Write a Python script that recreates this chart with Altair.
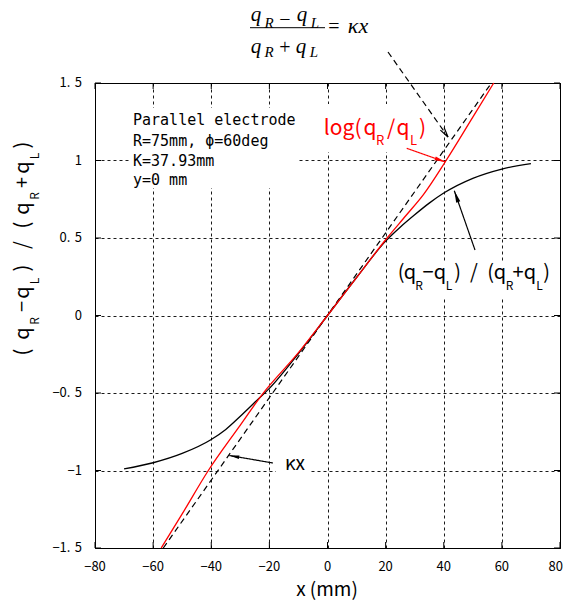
import math
import altair as alt
import pandas as pd

# ---------------- data ----------------
black_x = [-70, -60, -50, -40, -35, -30, -25, -20, -10, 0, 10, 20, 25, 30, 35, 40, 50, 60, 70]
black_y = [-0.99, -0.95, -0.89, -0.80, -0.735, -0.65, -0.56, -0.47, -0.245, 0.0, 0.245, 0.48, 0.57, 0.65, 0.725, 0.79, 0.885, 0.945, 0.98]

red_x = [-57.2, -50, -41, -30.5, -22.5, -10, 0, 10, 20.5, 27, 33, 40.8, 50, 57.2]
red_y = [-1.5, -1.28, -1.0, -0.72, -0.51, -0.24, 0.0, 0.245, 0.50, 0.645, 0.78, 1.0, 1.28, 1.5]

kx_x = [-56.5, 56.4]
kx_y = [-1.5, 1.5]

x_ticks = [-80, -60, -40, -20, 0, 20, 40, 60, 80]
y_ticks = [-1.5, -1, -0.5, 0, 0.5, 1, 1.5]

box_lines = ["Parallel electrode", "R=75mm, \u03d5=60deg", "K=37.93mm", "y=0 mm"]

# ---------------- layout helpers ----------------
W = H = 465
LEFT, TOP = 95, 83          # page position of the plot area
X0, X1, Y0, Y1 = -80, 80, -1.5, 1.5


def dx(px):
    return X0 + (px - LEFT) * (X1 - X0) / W


def dy(py):
    return Y1 - (py - TOP) * (Y1 - Y0) / H


def tick_text(v):
    s = f"{v:g}".replace("-", "\u2212")
    return s.replace(".", ".\u2004")


xscale = alt.Scale(domain=[X0, X1], nice=False, zero=False)
yscale = alt.Scale(domain=[Y0, Y1], nice=False, zero=False)
LABEL_FONT = "Noto Sans CJK JP"
xaxis = alt.Axis(values=x_ticks, grid=True, ticks=False, domain=False, labels=False, title=None)
yaxis = alt.Axis(values=y_ticks, grid=True, ticks=False, domain=False, labels=False, title=None)


def X(f):
    return alt.X(f, type="quantitative", scale=xscale, axis=xaxis, title=None)


def Y(f):
    return alt.Y(f, type="quantitative", scale=yscale, axis=yaxis, title=None)


def X2(f):
    return alt.X2(f)


def Y2(f):
    return alt.Y2(f)


# ---------------- curves ----------------
black_df = pd.DataFrame({"x": black_x, "y": black_y})
red_df = pd.DataFrame({"x": red_x, "y": red_y})
kx_df = pd.DataFrame({"x": kx_x, "y": kx_y})

black_line = alt.Chart(black_df).mark_line(color="black", strokeWidth=1.3, interpolate="monotone").encode(
    x=X("x"), y=Y("y"), order="x:Q")
red_line = alt.Chart(red_df).mark_line(color="#ff0000", strokeWidth=1.3, interpolate="monotone").encode(
    x=X("x"), y=Y("y"), order="x:Q")
kx_line = alt.Chart(kx_df).mark_line(color="black", strokeWidth=1.2, strokeDash=[6, 4]).encode(x=X("x"), y=Y("y"))

# ---------------- white boxes behind labels (page px) ----------------
boxes = [(131, 108, 299, 188), (320, 104, 432, 152), (395, 262, 555, 298), (276, 452, 311, 476)]
box_df = pd.DataFrame({"x": [dx(b[0]) for b in boxes], "x2": [dx(b[2]) for b in boxes],
                       "y": [dy(b[1]) for b in boxes], "y2": [dy(b[3]) for b in boxes]})
white = alt.Chart(box_df).mark_rect(color="white").encode(x=X("x"), x2=X2("x2"), y=Y("y"), y2=Y2("y2"))

# ---------------- inward ticks and tick labels ----------------
xt_df = pd.DataFrame({"v": x_ticks, "t": [tick_text(v) for v in x_ticks]})
yt_df = pd.DataFrame({"v": y_ticks, "t": [tick_text(v) for v in y_ticks]})
tick_b = alt.Chart(xt_df).mark_rule(color="black").encode(x=X("v"), y=alt.value(H), y2=alt.value(H - 6))
tick_t = alt.Chart(xt_df).mark_rule(color="black").encode(x=X("v"), y=alt.value(0), y2=alt.value(6))
tick_l = alt.Chart(yt_df).mark_rule(color="black").encode(y=Y("v"), x=alt.value(0), x2=alt.value(6))
tick_r = alt.Chart(yt_df).mark_rule(color="black").encode(y=Y("v"), x=alt.value(W), x2=alt.value(W - 6))
xlab = alt.Chart(xt_df.iloc[:-1]).mark_text(font=LABEL_FONT, fontSize=13, baseline="top", align="center",
                                            color="black").encode(x=X("v"), y=alt.value(H + 13), text="t:N")
xlab_last = alt.Chart(xt_df.iloc[-1:]).mark_text(font=LABEL_FONT, fontSize=13, baseline="top", align="right",
                                                 dx=3, color="black").encode(x=X("v"), y=alt.value(H + 13), text="t:N")
ylab = alt.Chart(yt_df).mark_text(font=LABEL_FONT, fontSize=13, baseline="middle", align="right", color="black").encode(
    y=Y("v"), x=alt.value(-13), text="t:N")

# ---------------- arrows (page px: start, tip) ----------------
arrows = [
    ((388, 52), (448, 137), "black", True, "open", 10),
    ((406.7, 148.3), (445.5, 162), "#ff0000", False, "filled", 11),
    ((475, 250), (454.3, 190.7), "black", False, "filled", 12),
    ((273, 463), (229.3, 455.5), "black", False, "filled", 10),
]

shaft_layers = []
head_rows = {"open": [], "filled": []}
for (fx, fy), (tx, ty), col, dashed, kind, L in arrows:
    sdf = pd.DataFrame({"x": [dx(fx)], "y": [dy(fy)], "x2": [dx(tx)], "y2": [dy(ty)]})
    m = alt.Chart(sdf).mark_rule(color=col, strokeWidth=1.2, strokeDash=[6, 4] if dashed else [1, 0])
    shaft_layers.append(m.encode(x=X("x"), y=Y("y"), x2=X2("x2"), y2=Y2("y2")))
    vx, vy = tx - fx, ty - fy
    n = math.hypot(vx, vy)
    ux, uy = vx / n, vy / n
    cx, cy = tx - ux * L / 2, ty - uy * L / 2
    ang = math.degrees(math.atan2(vx, -vy)) % 360
    head_rows[kind].append({"x": dx(cx), "y": dy(cy), "a": ang, "s": L * L, "c": col})

filled_head = alt.Chart(pd.DataFrame(head_rows["filled"])).mark_point(
    shape="M0,-1L0.36,1L-0.36,1Z", filled=True, opacity=1, strokeWidth=0
).encode(x=X("x"), y=Y("y"), angle=alt.Angle("a:Q", scale=None), size=alt.Size("s:Q", scale=None),
         color=alt.Color("c:N", scale=None))
open_head = alt.Chart(pd.DataFrame(head_rows["open"])).mark_point(
    shape="M-0.45,1L0,-1L0.45,1", filled=False, opacity=1, strokeWidth=1.2
).encode(x=X("x"), y=Y("y"), angle=alt.Angle("a:Q", scale=None), size=alt.Size("s:Q", scale=None),
         color=alt.Color("c:N", scale=None))

# fraction bar of the formula
bar_df = pd.DataFrame({"x": [dx(250)], "x2": [dx(325)], "y": [dy(27.7)], "y2": [dy(27.7)]})
frac_bar = alt.Chart(bar_df).mark_rule(color="black", strokeWidth=1).encode(x=X("x"), x2=X2("x2"), y=Y("y"), y2=Y2("y2"))

# ---------------- text segments (page px) ----------------
RED = "#ff0000"


def seg_df(rows):
    return pd.DataFrame({"t": [r[0] for r in rows], "x": [dx(r[1]) for r in rows],
                         "y": [dy(r[2]) for r in rows], "s": [r[3] for r in rows],
                         "c": [r[4] if len(r) > 4 else "black" for r in rows]})


def text_layer(rows, font, style="normal", align="center", angle=0):
    return alt.Chart(seg_df(rows)).mark_text(font=font, fontStyle=style, align=align,
                                             baseline="alphabetic", angle=angle).encode(
        x=X("x"), y=Y("y"), text="t:N", size=alt.Size("s:Q", scale=None), color=alt.Color("c:N", scale=None))


formula_it = [("q", 256, 21.2, 21), ("R", 269, 28, 15), ("q", 302, 21.2, 21), ("L", 315, 28, 15),
              ("q", 256, 52.8, 21), ("R", 269, 57.3, 15), ("q", 301, 52.8, 21), ("L", 314, 57.3, 15),
              ("\u03bax", 358, 33.3, 22)]
formula_up = [("\u2212", 285, 25.7, 20), ("+", 285, 54.3, 20), ("=", 334, 33.3, 20)]

MB, SB = 279, 290
sans_rows = [
    ("log", 339, 135, 21, RED), ("(", 358, 135, 21, RED), ("q", 370, 135, 21, RED), ("R", 380, 145, 13, RED),
    ("/", 391, 135, 21, RED), ("q", 403, 135, 21, RED), ("L", 413.5, 145, 13, RED), (")", 422.5, 135, 21, RED),
    ("(", 401, MB, 20), ("q", 410, MB, 20), ("R", 419, SB, 12), ("\u2212", 428, MB, 20), ("q", 440, MB, 20),
    ("L", 449, SB, 12), (")", 457.5, MB, 20), ("/", 474, MB, 20), ("(", 490.5, MB, 20), ("q", 500, MB, 20),
    ("R", 509.5, SB, 12), ("+", 518, MB, 20), ("q", 530, MB, 20), ("L", 539.5, SB, 12), (")", 546.5, MB, 20),
    ("\u03bax", 295, 470, 19),
    ("x (mm)", 327, 596, 19),
]

YM, YS = 29, 39
ytitle_rows = [
    ("(", YM, 352, 20), ("q", YM, 333.5, 20), ("R", YS, 321, 12), ("\u2212", YM, 306.5, 20), ("q", YM, 292.5, 20),
    ("L", YS, 281, 12), (")", YM, 268, 20), ("/", YM, 245, 20), ("(", YM, 225, 20), ("q", YM, 208.5, 20),
    ("R", YS, 196, 12), ("+", YM, 182.5, 20), ("q", YM, 167.5, 20), ("L", YS, 156, 12), (")", YM, 145, 20),
]

box_rows = [(t, 133, b, 15) for t, b in zip(box_lines, [125, 145.5, 165.5, 185])]

layers = [white, tick_b, tick_t, tick_l, tick_r, xlab, xlab_last, ylab, kx_line, black_line, red_line] + shaft_layers + [
    filled_head, open_head, frac_bar,
    text_layer(formula_it, "Liberation Serif", "italic"),
    text_layer(formula_up, "Liberation Serif"),
    text_layer(sans_rows, LABEL_FONT),
    text_layer(ytitle_rows, LABEL_FONT, angle=270),
    text_layer(box_rows, "DejaVu Sans Mono", align="left"),
]

chart = alt.layer(*layers).properties(
    width=W, height=H,
    autosize=alt.AutoSizeParams(type="none"),
    padding={"left": LEFT - 8, "top": TOP - 8, "right": 3, "bottom": 52},
).configure_view(stroke="black", strokeWidth=1).configure_axis(
    gridColor="black", gridDash=[3, 3], gridWidth=0.9, gridOpacity=1
)

chart.save("out.html", embed_options={"renderer": "svg", "actions": False})
